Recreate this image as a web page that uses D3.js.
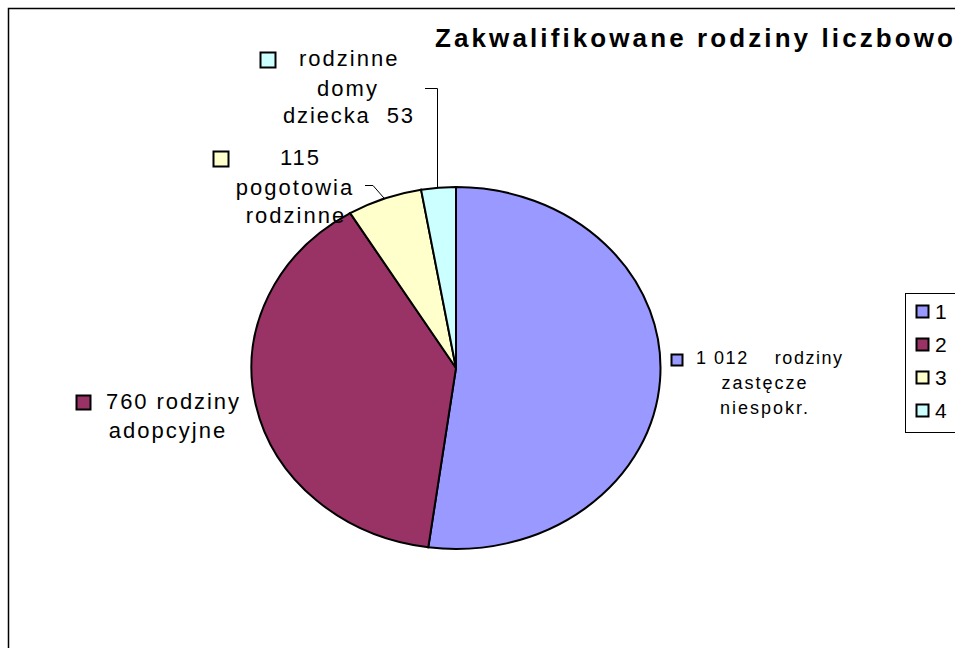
<!DOCTYPE html>
<html lang="pl">
<head>
<meta charset="UTF-8">
<title>Zakwalifikowane rodziny liczbowo</title>
<style>
    body { margin: 0; background: #fff; }
    svg { display: block; font-family: "Liberation Sans", Arial, sans-serif; }
</style>
</head>
<body>
<script src="https://d3js.org/d3.v7.min.js"></script>
<script>
    // dane
    const categories = ["1", "2", "3", "4"];
    const values = [1012, 760, 115, 53];
    const colors = ["#9999ff", "#993366", "#ffffcc", "#ccffff"];
    const labelLines = [
        ["1 012    rodziny", "zastęcze", "niespokr."],
        ["760 rodziny", "adopcyjne"],
        ["115", "pogotowia", "rodzinne"],
        ["rodzinne", "domy", "dziecka  53"]
    ];
    const title = "Zakwalifikowane rodziny liczbowo";

    const width = 955, height = 648;
    const svg = d3.select("body").append("svg")
        .attr("width", width)
        .attr("height", height);

    // ramka wykresu (ucięta z prawej i z dołu)
    svg.append("rect")
        .attr("x", 8.5).attr("y", 8.5)
        .attr("width", 1000).attr("height", 1000)
        .attr("fill", "#fff")
        .attr("stroke", "#000")
        .attr("stroke-width", 1.5);

    // tytuł
    svg.append("text")
        .attr("x", 435).attr("y", 47)
        .attr("font-size", 26)
        .attr("font-weight", "bold")
        .attr("textLength", 518)
        .attr("lengthAdjust", "spacing")
        .text(title);

    // kołowy (eliptyczny)
    const cx = 456, cy = 368, rx = 204.5, ry = 181;
    const pie = d3.pie().sort(null).value(d => d)(values);
    const arc = d3.arc().innerRadius(0).outerRadius(rx);

    const pieG = svg.append("g")
        .attr("transform", `translate(${cx},${cy}) scale(1,${ry / rx})`);

    pieG.selectAll("path").data(pie).join("path")
        .attr("d", arc)
        .attr("fill", (d, i) => colors[i])
        .attr("stroke", "#000")
        .attr("stroke-width", 2)
        .attr("vector-effect", "non-scaling-stroke");

    // punkt na krawędzi elipsy dla kąta
    const edge = a => [cx + rx * Math.sin(a), cy - ry * Math.cos(a)];

    // linie odniesienia
    const e3 = edge((pie[2].startAngle + pie[2].endAngle) / 2);
    const e4 = edge((pie[3].startAngle + pie[3].endAngle) / 2);
    const lead = d3.line();
    svg.append("path")
        .attr("d", lead([[365, 185.5], [373, 185.5], e3]))
        .attr("fill", "none").attr("stroke", "#000").attr("stroke-width", 1);
    svg.append("path")
        .attr("d", lead([[425, 88.5], [437.5, 88.5], [437.5, e4[1]]]))
        .attr("fill", "none").attr("stroke", "#000").attr("stroke-width", 1);

    // etykiety danych
    const labelLayout = [
        { sq: [671, 354], size: 11, font: 18, ls: 2, lines: [[696, 364, "start", 148], [765, 389, "middle", 0], [765, 414, "middle", 0]] },
        { sq: [76, 395], size: 14, font: 22, ls: 2, lines: [[106, 409, "start", 135], [168, 438, "middle", 0]] },
        { sq: [213, 151], size: 15, font: 22, ls: 2, lines: [[280, 165, "start", 0], [295, 195, "middle", 0], [296, 223, "middle", 0]] },
        { sq: [260, 52], size: 15, font: 22, ls: 2, lines: [[299, 66, "start", 0], [348, 96, "middle", 0], [349, 123, "middle", 132]] }
    ];

    labelLayout.forEach((L, i) => {
        const g = svg.append("g");
        g.append("rect")
            .attr("x", L.sq[0] + 0.5).attr("y", L.sq[1] + 0.5)
            .attr("width", L.size).attr("height", L.size)
            .attr("fill", colors[i])
            .attr("stroke", "#000").attr("stroke-width", 2);
        labelLines[i].forEach((t, j) => {
            const [x, y, anchor, len] = L.lines[j];
            const txt = g.append("text")
                .attr("x", x).attr("y", y)
                .attr("font-size", L.font)
                .attr("text-anchor", anchor)
                .attr("letter-spacing", L.ls)
                .style("white-space", "pre")
                .text(t);
            if (len) txt.attr("textLength", len).attr("lengthAdjust", "spacing");
        });
    });

    // legenda
    const legend = svg.append("g");
    legend.append("rect")
        .attr("x", 905.5).attr("y", 293.5)
        .attr("width", 100).attr("height", 139)
        .attr("fill", "#fff").attr("stroke", "#000").attr("stroke-width", 1);

    const ly = d3.scalePoint().domain(categories).range([311, 410]);
    const items = legend.selectAll("g.item").data(categories).join("g")
        .attr("class", "item")
        .attr("transform", d => `translate(916,${ly(d)})`);
    items.append("rect")
        .attr("x", 0.5).attr("y", -5.5)
        .attr("width", 12).attr("height", 12)
        .attr("fill", (d, i) => colors[i])
        .attr("stroke", "#000").attr("stroke-width", 2);
    items.append("text")
        .attr("x", 19).attr("y", 7.5)
        .attr("font-size", 21)
        .text(d => d);
</script>
</body>
</html>
